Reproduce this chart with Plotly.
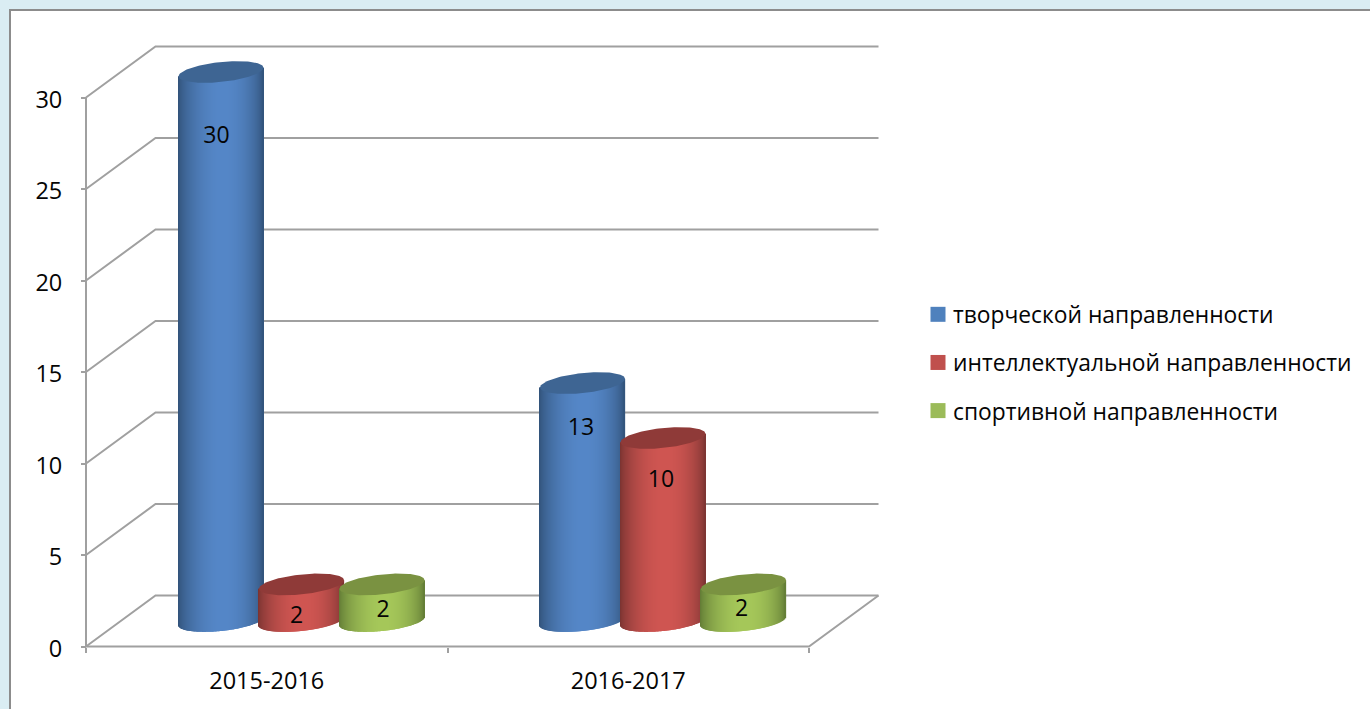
import numpy as np
import plotly.graph_objects as go

categories = ["2015-2016", "2016-2017"]
series_names = ["творческой направленности", "интеллектуальной направленности", "спортивной направленности"]
creative = [30, 13]
intellectual = [2, 10]
sport = [2, 2]
y_ticks = [0, 5, 10, 15, 20, 25, 30]

series = [creative, intellectual, sport]
FONT = "Open Sans"
TXT = "#050505"
GRID = "#a0a0a0"
W, H = 1370, 709
X0, Y0 = 86, 646.5         # pixel of the axes' origin
PX_CAT = 361.5             # pixels per category
PX_VAL = 18.3              # pixels per value unit
DX = 69.5 / PX_CAT         # depth of the 3-D box in axis units
DY = 51 / PX_VAL
SPACING = 80.5 / PX_CAT
A_PX, B_PX, K_PX = 42.5, 10.0, 4.3   # ellipse half width, half height, tilt
styles = [
    dict(edge=(48, 80, 118), peak=(85, 135, 200), cap="#3e6593", key="#4f81bd"),
    dict(edge=(118, 50, 48), peak=(208, 86, 82), cap="#8f3a38", key="#c0504d"),
    dict(edge=(95, 120, 52), peak=(166, 200, 90), cap="#7a9241", key="#9bbb59"),
]
# label nudges in pixels relative to the centre of each cylinder's top
label_dx = [[-4.5, -1.5], [-5, -2], [1, -2]]
label_dy = [[65, 46], [33, 43], [26.5, 25.5]]

fig = go.Figure()
shapes = [dict(type="rect", xref="paper", yref="paper", x0=10 / W, x1=1.02, y0=-0.02, y1=1 - 10 / H,
               fillcolor="white", line=dict(color="#8c8c8c", width=2), layer="below")]


def seg(xs, ys):
    path = "M" + " L".join(f"{x},{y}" for x, y in zip(xs, ys))
    return dict(type="path", xref="x", yref="y", path=path, line=dict(color=GRID, width=2), layer="below")


n = len(categories)
for v in y_ticks:
    shapes.append(seg([0, DX, n + DX], [v, v + DY, v + DY]))
shapes.append(seg([0, 0], [0, max(y_ticks)]))
shapes.append(seg([0, n, n + DX], [0, 0, DY]))

us = np.arange(-42, 43, 1.0)
root = np.sqrt(np.clip(1 - (us / A_PX) ** 2, 0, 1))
t = np.linspace(0, 2 * np.pi, 121)
labx, laby, labt = [], [], []
caps = []
for s, vals in enumerate(series):
    st = styles[s]
    xs, bases, tops, cols = [], [], [], []
    for c, v in enumerate(vals):
        cx = c + 0.5 + DX / 2 + (s - 1) * SPACING
        cy = v + DY / 2
        xs += list(cx + us / PX_CAT)
        bot = DY / 2 + (K_PX * us / A_PX - B_PX * root) / PX_VAL
        top = cy + (K_PX * us / A_PX) / PX_VAL
        bases += list(bot)
        tops += list(top - bot)
        f = np.sin(np.pi * ((us + A_PX) / (2 * A_PX)) ** 1.08) ** 0.6
        for g in f:
            cols.append("rgb(%d,%d,%d)" % tuple(int(e + (p - e) * g) for e, p in zip(st["edge"], st["peak"])))
        caps.append(go.Scatter(
            x=cx + A_PX * np.cos(t) / PX_CAT,
            y=cy + (K_PX * np.cos(t) + B_PX * np.sin(t)) / PX_VAL,
            mode="lines", fill="toself", fillcolor=st["cap"], line=dict(width=0),
            showlegend=False, hoverinfo="skip"))
        labx.append(cx + label_dx[s][c] / PX_CAT)
        laby.append(cy - label_dy[s][c] / PX_VAL)
        labt.append(str(v))
    fig.add_trace(go.Bar(x=xs, y=tops, base=bases, width=1.3 / PX_CAT,
                         marker=dict(color=cols, line=dict(width=0)),
                         showlegend=False, hoverinfo="skip"))

for tr in caps:
    fig.add_trace(tr)

fig.add_trace(go.Scatter(x=labx, y=laby, text=labt, mode="text", textposition="middle center",
                         textfont=dict(family=FONT, size=23, color=TXT), showlegend=False, hoverinfo="skip"))

for s, name in enumerate(series_names):
    fig.add_trace(go.Scatter(x=[None], y=[None], mode="markers", name=name, legendgroup=name,
                             marker=dict(symbol="square", size=15, color=styles[s]["key"])))

fig.update_layout(
    width=W, height=H, margin=dict(l=0, r=0, t=0, b=0), barmode="overlay",
    paper_bgcolor="#daedf3", plot_bgcolor="rgba(0,0,0,0)", shapes=shapes,
    font=dict(family=FONT, size=23.5, color=TXT),
    legend=dict(x=913 / W, xanchor="left", y=1 - 362.5 / H, yanchor="middle", traceorder="grouped",
                tracegroupgap=15.5, bgcolor="rgba(0,0,0,0)", font=dict(family=FONT, size=22.8, color=TXT)),
    xaxis=dict(range=[-X0 / PX_CAT, (W - X0) / PX_CAT], anchor="free", position=(H - Y0) / H,
               tickvals=[i + 0.5 for i in range(n)], ticktext=categories, ticks="", ticklen=0,
               ticklabelstandoff=18, showgrid=False, zeroline=False, showline=False,
               minor=dict(tickvals=list(range(n + 1)), ticks="outside", ticklen=5, tickwidth=2, tickcolor=GRID, showgrid=False)),
    yaxis=dict(range=[-(H - Y0) / PX_VAL, Y0 / PX_VAL], anchor="free", position=X0 / W,
               tickvals=y_ticks, ticks="outside", ticklen=5, tickwidth=2, tickcolor=GRID,
               ticklabelstandoff=14, ticklabelshift=2, showgrid=False, zeroline=False, showline=False),
)

fig.write_html("out.html", config=dict(displayModeBar=False),
               post_script="document.body.style.margin='0';document.body.style.overflow='hidden';"
                           "document.querySelectorAll('.legendpoints').forEach(function(e){e.setAttribute('transform','translate(5,0)');});")
